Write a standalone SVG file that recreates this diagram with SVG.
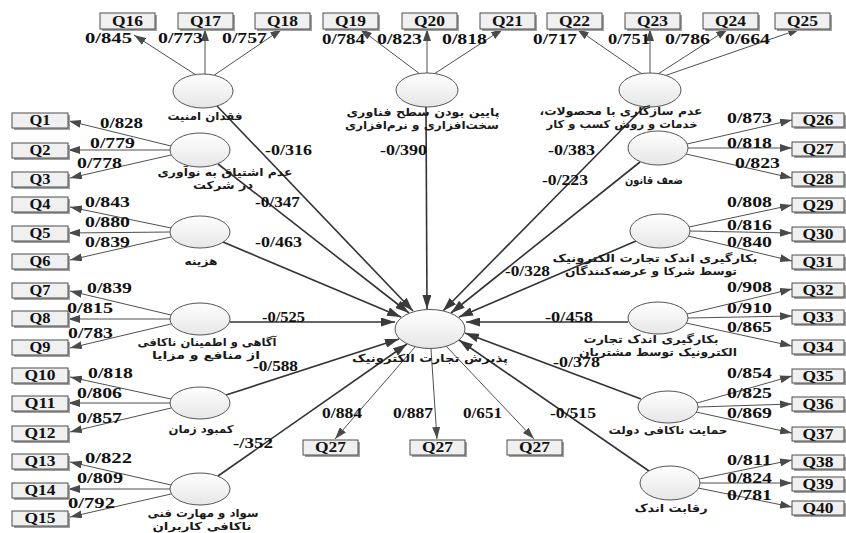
<svg xmlns="http://www.w3.org/2000/svg" width="846" height="533" viewBox="0 0 846 533">
<defs>
<linearGradient id="g" x1="0" y1="0" x2="0" y2="1"><stop offset="0" stop-color="#ffffff"/><stop offset="1" stop-color="#e6e6e6"/></linearGradient>
<marker id="a" viewBox="0 0 12 8" refX="12" refY="4" markerWidth="12" markerHeight="8" markerUnits="userSpaceOnUse" orient="auto"><path d="M0,0 L12,4 L0,8 z" fill="#4a4a4a"/></marker>
<marker id="b" viewBox="0 0 14 9" refX="14" refY="4.5" markerWidth="14" markerHeight="9" markerUnits="userSpaceOnUse" orient="auto"><path d="M0,0 L14,4.5 L0,9 z" fill="#3a3a3a"/></marker>
<style>
.bx rect.f{fill:#f0f0f0;stroke:#4d4d4d;stroke-width:1}
.bx rect.s{fill:#a0a0a0}
.bt{font-family:"Liberation Serif",serif;font-weight:bold;font-size:15px;text-anchor:middle;fill:#111}
.lv ellipse{fill:url(#g);stroke:#555;stroke-width:1}
.fa{font-family:"DejaVu Sans","Noto Sans",sans-serif;font-size:11px;font-weight:bold;text-anchor:middle;direction:rtl;fill:#1a1a1a}
.ind line{stroke:#505050;stroke-width:1;marker-end:url(#a)}
.str line{stroke:#333;stroke-width:1.6;marker-end:url(#b)}
.n{font-family:"Liberation Serif",serif;font-weight:bold;font-size:14px;fill:#111}
</style>
</defs>

<g id="connectors">
<g class="ind">
<line x1="196" y1="75" x2="134" y2="35"/>
<line x1="205" y1="74" x2="205" y2="29"/>
<line x1="213" y1="76" x2="282" y2="29"/>
<line x1="420" y1="74" x2="360" y2="29"/>
<line x1="427" y1="73" x2="427" y2="29"/>
<line x1="434" y1="74" x2="503" y2="29"/>
<line x1="642" y1="74" x2="577" y2="29"/>
<line x1="650" y1="73" x2="650" y2="29"/>
<line x1="658" y1="74" x2="728" y2="29"/>
<line x1="664" y1="76" x2="800" y2="29"/>
<line x1="171" y1="146" x2="69" y2="121"/>
<line x1="170" y1="150" x2="68" y2="150"/>
<line x1="171" y1="155" x2="70" y2="178"/>
<line x1="171" y1="228" x2="70" y2="207"/>
<line x1="170" y1="232" x2="68" y2="233"/>
<line x1="171" y1="237" x2="70" y2="260"/>
<line x1="171" y1="315" x2="70" y2="291"/>
<line x1="170" y1="319" x2="68" y2="319"/>
<line x1="171" y1="324" x2="70" y2="348"/>
<line x1="171" y1="399" x2="70" y2="377"/>
<line x1="170" y1="403" x2="68" y2="403"/>
<line x1="171" y1="408" x2="70" y2="432"/>
<line x1="171" y1="485" x2="70" y2="462"/>
<line x1="170" y1="489" x2="68" y2="489"/>
<line x1="171" y1="494" x2="70" y2="517"/>
<line x1="687" y1="144" x2="792" y2="120"/>
<line x1="688" y1="148" x2="792" y2="148"/>
<line x1="686" y1="154" x2="792" y2="178"/>
<line x1="689" y1="227" x2="792" y2="205"/>
<line x1="690" y1="231" x2="792" y2="233"/>
<line x1="688" y1="236" x2="792" y2="261"/>
<line x1="687" y1="314" x2="792" y2="289"/>
<line x1="688" y1="318" x2="792" y2="316"/>
<line x1="686" y1="323" x2="792" y2="346"/>
<line x1="697" y1="403" x2="792" y2="376"/>
<line x1="698" y1="407" x2="792" y2="404"/>
<line x1="696" y1="412" x2="792" y2="433"/>
<line x1="699" y1="479" x2="792" y2="460"/>
<line x1="700" y1="483" x2="792" y2="483"/>
<line x1="698" y1="488" x2="792" y2="507"/>
<line x1="415" y1="347" x2="335" y2="439"/>
<line x1="431" y1="349" x2="437" y2="439"/>
<line x1="446" y1="346" x2="534" y2="439"/>
</g>
<g class="str">
<line x1="217" y1="106" x2="413" y2="311"/>
<line x1="218" y1="164" x2="409" y2="313"/>
<line x1="223" y1="242" x2="401" y2="317"/>
<line x1="230" y1="322" x2="395" y2="322"/>
<line x1="226" y1="395" x2="399" y2="339"/>
<line x1="218" y1="476" x2="407" y2="344"/>
<line x1="426" y1="107" x2="427" y2="309"/>
<line x1="645" y1="106" x2="443" y2="311"/>
<line x1="640" y1="162" x2="451" y2="313"/>
<line x1="636" y1="241" x2="459" y2="317"/>
<line x1="628" y1="322" x2="466" y2="322"/>
<line x1="641" y1="399" x2="465" y2="333"/>
<line x1="649" y1="471" x2="459" y2="340"/>
</g>
<g id="loadings">
<text class="n" x="85" y="43" textLength="47" lengthAdjust="spacingAndGlyphs">0/845</text>
<text class="n" x="158" y="43" textLength="45" lengthAdjust="spacingAndGlyphs">0/773</text>
<text class="n" x="222" y="43" textLength="45" lengthAdjust="spacingAndGlyphs">0/757</text>
<text class="n" x="322" y="44" textLength="43" lengthAdjust="spacingAndGlyphs">0/784</text>
<text class="n" x="377" y="44" textLength="45" lengthAdjust="spacingAndGlyphs">0/823</text>
<text class="n" x="442" y="44" textLength="45" lengthAdjust="spacingAndGlyphs">0/818</text>
<text class="n" x="533" y="44" textLength="44" lengthAdjust="spacingAndGlyphs">0/717</text>
<text class="n" x="608" y="44" textLength="42" lengthAdjust="spacingAndGlyphs">0/751</text>
<text class="n" x="665" y="44" textLength="45" lengthAdjust="spacingAndGlyphs">0/786</text>
<text class="n" x="725" y="44" textLength="45" lengthAdjust="spacingAndGlyphs">0/664</text>
<text class="n" x="100" y="128" textLength="43" lengthAdjust="spacingAndGlyphs">0/828</text>
<text class="n" x="90" y="148" textLength="45" lengthAdjust="spacingAndGlyphs">0/779</text>
<text class="n" x="77" y="168" textLength="45" lengthAdjust="spacingAndGlyphs">0/778</text>
<text class="n" x="85" y="207" textLength="45" lengthAdjust="spacingAndGlyphs">0/843</text>
<text class="n" x="85" y="227" textLength="45" lengthAdjust="spacingAndGlyphs">0/880</text>
<text class="n" x="85" y="247" textLength="45" lengthAdjust="spacingAndGlyphs">0/839</text>
<text class="n" x="87" y="293" textLength="45" lengthAdjust="spacingAndGlyphs">0/839</text>
<text class="n" x="67" y="313" textLength="46" lengthAdjust="spacingAndGlyphs">0/815</text>
<text class="n" x="68" y="338" textLength="45" lengthAdjust="spacingAndGlyphs">0/783</text>
<text class="n" x="88" y="378" textLength="45" lengthAdjust="spacingAndGlyphs">0/818</text>
<text class="n" x="77" y="398" textLength="45" lengthAdjust="spacingAndGlyphs">0/806</text>
<text class="n" x="77" y="423" textLength="45" lengthAdjust="spacingAndGlyphs">0/857</text>
<text class="n" x="85" y="463" textLength="47" lengthAdjust="spacingAndGlyphs">0/822</text>
<text class="n" x="77" y="483" textLength="46" lengthAdjust="spacingAndGlyphs">0/809</text>
<text class="n" x="68" y="508" textLength="47" lengthAdjust="spacingAndGlyphs">0/792</text>
<text class="n" x="727" y="123" textLength="45" lengthAdjust="spacingAndGlyphs">0/873</text>
<text class="n" x="727" y="148" textLength="45" lengthAdjust="spacingAndGlyphs">0/818</text>
<text class="n" x="735" y="168" textLength="45" lengthAdjust="spacingAndGlyphs">0/823</text>
<text class="n" x="727" y="207" textLength="45" lengthAdjust="spacingAndGlyphs">0/808</text>
<text class="n" x="727" y="230" textLength="45" lengthAdjust="spacingAndGlyphs">0/816</text>
<text class="n" x="727" y="247" textLength="45" lengthAdjust="spacingAndGlyphs">0/840</text>
<text class="n" x="727" y="292" textLength="45" lengthAdjust="spacingAndGlyphs">0/908</text>
<text class="n" x="727" y="313" textLength="45" lengthAdjust="spacingAndGlyphs">0/910</text>
<text class="n" x="727" y="332" textLength="45" lengthAdjust="spacingAndGlyphs">0/865</text>
<text class="n" x="727" y="378" textLength="45" lengthAdjust="spacingAndGlyphs">0/854</text>
<text class="n" x="727" y="398" textLength="45" lengthAdjust="spacingAndGlyphs">0/825</text>
<text class="n" x="727" y="418" textLength="45" lengthAdjust="spacingAndGlyphs">0/869</text>
<text class="n" x="727" y="465" textLength="45" lengthAdjust="spacingAndGlyphs">0/811</text>
<text class="n" x="727" y="483" textLength="45" lengthAdjust="spacingAndGlyphs">0/824</text>
<text class="n" x="727" y="500" textLength="45" lengthAdjust="spacingAndGlyphs">0/781</text>
<text class="n" x="322" y="418" textLength="40" lengthAdjust="spacingAndGlyphs">0/884</text>
<text class="n" x="393" y="418" textLength="40" lengthAdjust="spacingAndGlyphs">0/887</text>
<text class="n" x="463" y="418" textLength="39" lengthAdjust="spacingAndGlyphs">0/651</text>
</g>
<g id="paths">
<text class="n" x="265" y="155" textLength="47" lengthAdjust="spacingAndGlyphs">-0/316</text>
<text class="n" x="380" y="155" textLength="47" lengthAdjust="spacingAndGlyphs">-0/390</text>
<text class="n" x="548" y="155" textLength="47" lengthAdjust="spacingAndGlyphs">-0/383</text>
<text class="n" x="542" y="185" textLength="46" lengthAdjust="spacingAndGlyphs">-0/223</text>
<text class="n" x="255" y="207" textLength="45" lengthAdjust="spacingAndGlyphs">-0/347</text>
<text class="n" x="255" y="247" textLength="47" lengthAdjust="spacingAndGlyphs">-0/463</text>
<text class="n" x="505" y="276" textLength="45" lengthAdjust="spacingAndGlyphs">-0/328</text>
<text class="n" x="262" y="322" textLength="43" lengthAdjust="spacingAndGlyphs">-0/525</text>
<text class="n" x="545" y="322" textLength="48" lengthAdjust="spacingAndGlyphs">-0/458</text>
<text class="n" x="253" y="371" textLength="45" lengthAdjust="spacingAndGlyphs">-0/588</text>
<text class="n" x="553" y="367" textLength="47" lengthAdjust="spacingAndGlyphs">-0/378</text>
<text class="n" x="233" y="448" textLength="40" lengthAdjust="spacingAndGlyphs">-/352</text>
<text class="n" x="550" y="418" textLength="46" lengthAdjust="spacingAndGlyphs">-0/515</text>
</g>
</g>

<g id="Q16" class="bx"><rect class="s" x="102" y="15" width="55" height="16"/><rect class="f" x="100" y="13" width="55" height="16"/><text class="bt" x="127.5" y="26" textLength="31" lengthAdjust="spacingAndGlyphs">Q16</text></g>
<g id="Q17" class="bx"><rect class="s" x="180" y="15" width="55" height="16"/><rect class="f" x="178" y="13" width="55" height="16"/><text class="bt" x="205.5" y="26" textLength="31" lengthAdjust="spacingAndGlyphs">Q17</text></g>
<g id="Q18" class="bx"><rect class="s" x="257" y="15" width="55" height="16"/><rect class="f" x="255" y="13" width="55" height="16"/><text class="bt" x="282.5" y="26" textLength="31" lengthAdjust="spacingAndGlyphs">Q18</text></g>
<g id="Q19" class="bx"><rect class="s" x="325" y="15" width="55" height="16"/><rect class="f" x="323" y="13" width="55" height="16"/><text class="bt" x="350.5" y="26" textLength="31" lengthAdjust="spacingAndGlyphs">Q19</text></g>
<g id="Q20" class="bx"><rect class="s" x="404" y="15" width="55" height="16"/><rect class="f" x="402" y="13" width="55" height="16"/><text class="bt" x="429.5" y="26" textLength="31" lengthAdjust="spacingAndGlyphs">Q20</text></g>
<g id="Q21" class="bx"><rect class="s" x="482" y="15" width="55" height="16"/><rect class="f" x="480" y="13" width="55" height="16"/><text class="bt" x="507.5" y="26" textLength="31" lengthAdjust="spacingAndGlyphs">Q21</text></g>
<g id="Q22" class="bx"><rect class="s" x="549" y="15" width="55" height="16"/><rect class="f" x="547" y="13" width="55" height="16"/><text class="bt" x="574.5" y="26" textLength="31" lengthAdjust="spacingAndGlyphs">Q22</text></g>
<g id="Q23" class="bx"><rect class="s" x="627" y="15" width="55" height="16"/><rect class="f" x="625" y="13" width="55" height="16"/><text class="bt" x="652.5" y="26" textLength="31" lengthAdjust="spacingAndGlyphs">Q23</text></g>
<g id="Q24" class="bx"><rect class="s" x="705" y="15" width="55" height="16"/><rect class="f" x="703" y="13" width="55" height="16"/><text class="bt" x="730.5" y="26" textLength="31" lengthAdjust="spacingAndGlyphs">Q24</text></g>
<g id="Q25" class="bx"><rect class="s" x="777" y="15" width="55" height="16"/><rect class="f" x="775" y="13" width="55" height="16"/><text class="bt" x="802.5" y="26" textLength="31" lengthAdjust="spacingAndGlyphs">Q25</text></g>

<g id="Q1" class="bx"><rect class="s" x="14" y="115" width="56" height="15"/><rect class="f" x="12" y="113" width="56" height="15"/><text class="bt" x="40" y="125" textLength="21" lengthAdjust="spacingAndGlyphs">Q1</text></g>
<g id="Q2" class="bx"><rect class="s" x="14" y="145" width="56" height="15"/><rect class="f" x="12" y="143" width="56" height="15"/><text class="bt" x="40" y="155" textLength="21" lengthAdjust="spacingAndGlyphs">Q2</text></g>
<g id="Q3" class="bx"><rect class="s" x="14" y="174" width="56" height="15"/><rect class="f" x="12" y="172" width="56" height="15"/><text class="bt" x="40" y="184" textLength="21" lengthAdjust="spacingAndGlyphs">Q3</text></g>
<g id="Q4" class="bx"><rect class="s" x="14" y="199" width="56" height="15"/><rect class="f" x="12" y="197" width="56" height="15"/><text class="bt" x="40" y="209" textLength="21" lengthAdjust="spacingAndGlyphs">Q4</text></g>
<g id="Q5" class="bx"><rect class="s" x="14" y="228" width="56" height="15"/><rect class="f" x="12" y="226" width="56" height="15"/><text class="bt" x="40" y="238" textLength="21" lengthAdjust="spacingAndGlyphs">Q5</text></g>
<g id="Q6" class="bx"><rect class="s" x="14" y="256" width="56" height="15"/><rect class="f" x="12" y="254" width="56" height="15"/><text class="bt" x="40" y="266" textLength="21" lengthAdjust="spacingAndGlyphs">Q6</text></g>
<g id="Q7" class="bx"><rect class="s" x="14" y="285" width="56" height="15"/><rect class="f" x="12" y="283" width="56" height="15"/><text class="bt" x="40" y="295" textLength="21" lengthAdjust="spacingAndGlyphs">Q7</text></g>
<g id="Q8" class="bx"><rect class="s" x="14" y="313" width="56" height="15"/><rect class="f" x="12" y="311" width="56" height="15"/><text class="bt" x="40" y="323" textLength="21" lengthAdjust="spacingAndGlyphs">Q8</text></g>
<g id="Q9" class="bx"><rect class="s" x="14" y="342" width="56" height="15"/><rect class="f" x="12" y="340" width="56" height="15"/><text class="bt" x="40" y="352" textLength="21" lengthAdjust="spacingAndGlyphs">Q9</text></g>
<g id="Q10" class="bx"><rect class="s" x="14" y="370" width="56" height="15"/><rect class="f" x="12" y="368" width="56" height="15"/><text class="bt" x="40" y="380" textLength="31" lengthAdjust="spacingAndGlyphs">Q10</text></g>
<g id="Q11" class="bx"><rect class="s" x="14" y="398" width="56" height="15"/><rect class="f" x="12" y="396" width="56" height="15"/><text class="bt" x="40" y="408" textLength="31" lengthAdjust="spacingAndGlyphs">Q11</text></g>
<g id="Q12" class="bx"><rect class="s" x="14" y="428" width="56" height="15"/><rect class="f" x="12" y="426" width="56" height="15"/><text class="bt" x="40" y="438" textLength="31" lengthAdjust="spacingAndGlyphs">Q12</text></g>
<g id="Q13" class="bx"><rect class="s" x="14" y="456" width="56" height="15"/><rect class="f" x="12" y="454" width="56" height="15"/><text class="bt" x="40" y="466" textLength="31" lengthAdjust="spacingAndGlyphs">Q13</text></g>
<g id="Q14" class="bx"><rect class="s" x="14" y="485" width="56" height="15"/><rect class="f" x="12" y="483" width="56" height="15"/><text class="bt" x="40" y="495" textLength="31" lengthAdjust="spacingAndGlyphs">Q14</text></g>
<g id="Q15" class="bx"><rect class="s" x="14" y="513" width="56" height="15"/><rect class="f" x="12" y="511" width="56" height="15"/><text class="bt" x="40" y="523" textLength="31" lengthAdjust="spacingAndGlyphs">Q15</text></g>

<g id="Q26" class="bx"><rect class="s" x="794" y="115" width="52" height="14"/><rect class="f" x="792" y="113" width="52" height="14"/><text class="bt" x="818" y="125" textLength="31" lengthAdjust="spacingAndGlyphs">Q26</text></g>
<g id="Q27" class="bx"><rect class="s" x="794" y="144" width="52" height="14"/><rect class="f" x="792" y="142" width="52" height="14"/><text class="bt" x="818" y="154" textLength="31" lengthAdjust="spacingAndGlyphs">Q27</text></g>
<g id="Q28" class="bx"><rect class="s" x="794" y="174" width="52" height="14"/><rect class="f" x="792" y="172" width="52" height="14"/><text class="bt" x="818" y="184" textLength="31" lengthAdjust="spacingAndGlyphs">Q28</text></g>
<g id="Q29" class="bx"><rect class="s" x="794" y="200" width="52" height="14"/><rect class="f" x="792" y="198" width="52" height="14"/><text class="bt" x="818" y="210" textLength="31" lengthAdjust="spacingAndGlyphs">Q29</text></g>
<g id="Q30" class="bx"><rect class="s" x="794" y="229" width="52" height="14"/><rect class="f" x="792" y="227" width="52" height="14"/><text class="bt" x="818" y="239" textLength="31" lengthAdjust="spacingAndGlyphs">Q30</text></g>
<g id="Q31" class="bx"><rect class="s" x="794" y="257" width="52" height="14"/><rect class="f" x="792" y="255" width="52" height="14"/><text class="bt" x="818" y="267" textLength="31" lengthAdjust="spacingAndGlyphs">Q31</text></g>
<g id="Q32" class="bx"><rect class="s" x="794" y="285" width="52" height="14"/><rect class="f" x="792" y="283" width="52" height="14"/><text class="bt" x="818" y="295" textLength="31" lengthAdjust="spacingAndGlyphs">Q32</text></g>
<g id="Q33" class="bx"><rect class="s" x="794" y="312" width="52" height="14"/><rect class="f" x="792" y="310" width="52" height="14"/><text class="bt" x="818" y="322" textLength="31" lengthAdjust="spacingAndGlyphs">Q33</text></g>
<g id="Q34" class="bx"><rect class="s" x="794" y="342" width="52" height="14"/><rect class="f" x="792" y="340" width="52" height="14"/><text class="bt" x="818" y="352" textLength="31" lengthAdjust="spacingAndGlyphs">Q34</text></g>
<g id="Q35" class="bx"><rect class="s" x="794" y="371" width="52" height="14"/><rect class="f" x="792" y="369" width="52" height="14"/><text class="bt" x="818" y="381" textLength="31" lengthAdjust="spacingAndGlyphs">Q35</text></g>
<g id="Q36" class="bx"><rect class="s" x="794" y="399" width="52" height="14"/><rect class="f" x="792" y="397" width="52" height="14"/><text class="bt" x="818" y="409" textLength="31" lengthAdjust="spacingAndGlyphs">Q36</text></g>
<g id="Q37" class="bx"><rect class="s" x="794" y="429" width="52" height="14"/><rect class="f" x="792" y="427" width="52" height="14"/><text class="bt" x="818" y="439" textLength="31" lengthAdjust="spacingAndGlyphs">Q37</text></g>
<g id="Q38" class="bx"><rect class="s" x="794" y="457" width="52" height="14"/><rect class="f" x="792" y="455" width="52" height="14"/><text class="bt" x="818" y="467" textLength="31" lengthAdjust="spacingAndGlyphs">Q38</text></g>
<g id="Q39" class="bx"><rect class="s" x="794" y="479" width="52" height="14"/><rect class="f" x="792" y="477" width="52" height="14"/><text class="bt" x="818" y="489" textLength="31" lengthAdjust="spacingAndGlyphs">Q39</text></g>
<g id="Q40" class="bx"><rect class="s" x="794" y="503" width="52" height="14"/><rect class="f" x="792" y="501" width="52" height="14"/><text class="bt" x="818" y="513" textLength="31" lengthAdjust="spacingAndGlyphs">Q40</text></g>

<g id="Q27a" class="bx"><rect class="s" x="305" y="442" width="55" height="15"/><rect class="f" x="303" y="440" width="55" height="15"/><text class="bt" x="330.5" y="452" textLength="31" lengthAdjust="spacingAndGlyphs">Q27</text></g>
<g id="Q27b" class="bx"><rect class="s" x="412" y="442" width="55" height="15"/><rect class="f" x="410" y="440" width="55" height="15"/><text class="bt" x="437.5" y="452" textLength="31" lengthAdjust="spacingAndGlyphs">Q27</text></g>
<g id="Q27c" class="bx"><rect class="s" x="509" y="442" width="55" height="15"/><rect class="f" x="507" y="440" width="55" height="15"/><text class="bt" x="534.5" y="452" textLength="31" lengthAdjust="spacingAndGlyphs">Q27</text></g>

<g id="security" class="lv"><ellipse cx="203" cy="91" rx="30" ry="17"/><text class="fa" x="205" y="120" textLength="75" lengthAdjust="spacingAndGlyphs">فقدان امنیت</text></g>
<g id="innovation" class="lv"><ellipse cx="200" cy="150" rx="30" ry="17"/><text class="fa" x="225" y="176" textLength="135" lengthAdjust="spacingAndGlyphs">عدم اشتیاق به نوآوری</text><text class="fa" x="223" y="189" textLength="60" lengthAdjust="spacingAndGlyphs">در شرکت</text></g>
<g id="cost" class="lv"><ellipse cx="200" cy="232" rx="30" ry="16"/><text class="fa" x="201" y="265" textLength="33" lengthAdjust="spacingAndGlyphs">هزینه</text></g>
<g id="awareness" class="lv"><ellipse cx="200" cy="319" rx="30" ry="16"/><text class="fa" x="207" y="346" textLength="139" lengthAdjust="spacingAndGlyphs">آگاهی و اطمینان ناکافی</text><text class="fa" x="206" y="359" textLength="108" lengthAdjust="spacingAndGlyphs">از منافع و مزایا</text></g>
<g id="time" class="lv"><ellipse cx="200" cy="403" rx="30" ry="16"/><text class="fa" x="201" y="433" textLength="65" lengthAdjust="spacingAndGlyphs">کمبود زمان</text></g>
<g id="skill" class="lv"><ellipse cx="200" cy="489" rx="30" ry="16"/><text class="fa" x="203" y="517" textLength="111" lengthAdjust="spacingAndGlyphs">سواد و مهارت فنی</text><text class="fa" x="202" y="530" textLength="99" lengthAdjust="spacingAndGlyphs">ناکافی کاربران</text></g>
<g id="technology" class="lv"><ellipse cx="427" cy="90" rx="31" ry="17"/><text class="fa" x="423" y="116" textLength="153" lengthAdjust="spacingAndGlyphs">پایین بودن سطح فناوری</text><text class="fa" x="422" y="129" textLength="154" lengthAdjust="spacingAndGlyphs">سخت‌افزاری و نرم‌افزاری</text></g>
<g id="compatibility" class="lv"><ellipse cx="650" cy="90" rx="31" ry="17"/><text class="fa" x="621" y="115" textLength="163" lengthAdjust="spacingAndGlyphs">عدم سازگاری با محصولات،</text><text class="fa" x="622" y="128" textLength="151" lengthAdjust="spacingAndGlyphs">خدمات و روش کسب و کار</text></g>
<g id="law" class="lv"><ellipse cx="658" cy="148" rx="30" ry="17"/><text class="fa" x="654" y="184" textLength="58" lengthAdjust="spacingAndGlyphs">ضعف قانون</text></g>
<g id="partners" class="lv"><ellipse cx="660" cy="231" rx="30" ry="17"/><text class="fa" x="655" y="262" textLength="205" lengthAdjust="spacingAndGlyphs">بکارگیری اندک تجارت الکترونیک</text><text class="fa" x="651" y="275" textLength="172" lengthAdjust="spacingAndGlyphs">توسط شرکا و عرضه‌کنندگان</text></g>
<g id="customers" class="lv"><ellipse cx="658" cy="318" rx="30" ry="16"/><text class="fa" x="651" y="343" textLength="135" lengthAdjust="spacingAndGlyphs">بکارگیری اندک تجارت</text><text class="fa" x="658" y="356" textLength="158" lengthAdjust="spacingAndGlyphs">الکترونیک توسط مشتریان</text></g>
<g id="government" class="lv"><ellipse cx="668" cy="407" rx="30" ry="16"/><text class="fa" x="668" y="434" textLength="119" lengthAdjust="spacingAndGlyphs">حمایت ناکافی دولت</text></g>
<g id="competition" class="lv"><ellipse cx="670" cy="483" rx="30" ry="17"/><text class="fa" x="671" y="512" textLength="73" lengthAdjust="spacingAndGlyphs">رقابت اندک</text></g>
<g id="adoption" class="lv"><ellipse cx="430" cy="329" rx="35" ry="19.5"/><text class="fa" x="430" y="362" textLength="156" lengthAdjust="spacingAndGlyphs">پذیرش تجارت الکترونیک</text></g>
</svg>
